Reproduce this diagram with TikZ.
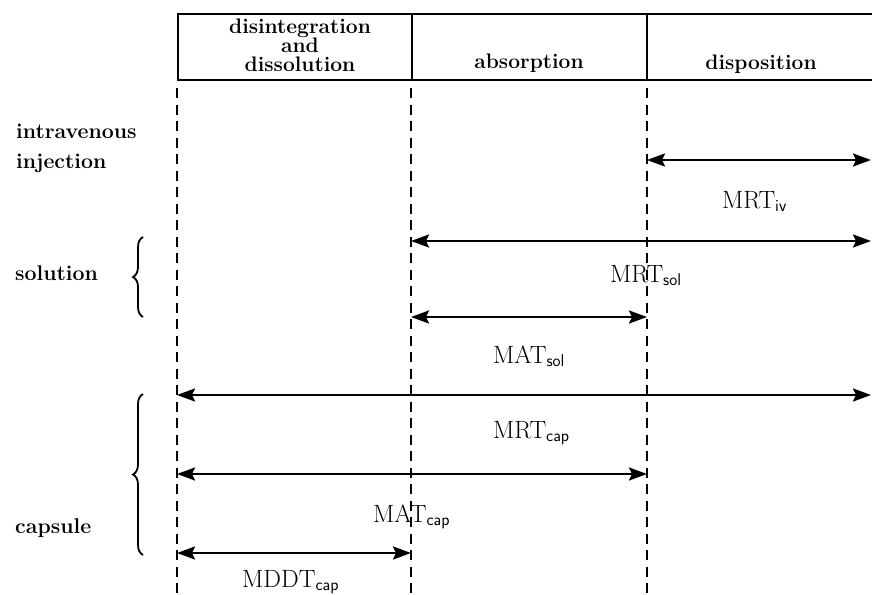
\documentclass[tikz,border=0pt]{standalone}
\usetikzlibrary{arrows.meta,decorations.pathreplacing}
\newcommand{\subtxt}[1]{\raisebox{-0.35ex}{\fontsize{17}{17}\selectfont\sffamily #1}}
\begin{document}
\begin{tikzpicture}[x=1pt,y=-1pt,
  vline/.style={line width=2.6pt,dash pattern=on 10pt off 6.5pt},
  span/.style={line width=2.3pt,{Stealth[length=18pt,width=13pt,inset=3pt]}-{Stealth[length=18pt,width=13pt,inset=3pt]}},
  hdr/.style={font=\fontsize{21}{19}\selectfont\bfseries,align=center,anchor=base,inner sep=0pt},
  lbl/.style={font=\fontsize{21.3}{23}\selectfont\bfseries,anchor=base west,inner sep=0pt},
  mlbl/.style={font=\fontsize{25}{25}\selectfont,anchor=base west,inner sep=0pt},
  brc/.style={line width=1.8pt,decorate,decoration={brace,amplitude=10pt,aspect=0.5}}]
\useasboundingbox (0,0) rectangle (872,594);
% header box
\coordinate (bl) at (178,80);
\coordinate (tl) at (178,14);
\coordinate (tr) at (872,14);
\coordinate (br) at (872,80);
\draw[line width=2.4pt] (tr) -- (tl) -- (bl) -- (br);
\coordinate (d1t) at (412,14); \coordinate (d1b) at (412,80);
\coordinate (d2t) at (647,14); \coordinate (d2b) at (647,80);
\draw[line width=1.8pt] (d1t) -- (d1b);
\draw[line width=1.8pt] (d2t) -- (d2b);
\node[hdr] (h1) at (300,71) {disintegration\\and\\dissolution};
\node[hdr] (h2) at (529,69) {absorption};
\node[hdr] (h3) at (761,70) {disposition};
% dashed verticals
\coordinate (v1t) at (177,88); \coordinate (v1b) at (177,594);
\coordinate (v2t) at (411,88); \coordinate (v2b) at (411,594);
\coordinate (v3t) at (647,88); \coordinate (v3b) at (647,594);
\draw[vline] (v1t) -- (v1b);
\draw[vline] (v2t) -- (v2b);
\draw[vline] (v3t) -- (v3b);
% left labels
\node[lbl] (iv1) at (16,138) {intravenous};
\node[lbl] (iv2) at (16,168) {injection};
\node[lbl] (sol) at (15,280) {solution};
\node[lbl] (cap) at (15,533) {capsule};
\draw[brc] (143,317) -- (143,237);
\draw[brc] (143,555) -- (143,394);
% arrows
\coordinate (a1l) at (647,160); \coordinate (a1r) at (871,160);
\coordinate (a2l) at (411,241); \coordinate (a2r) at (871,241);
\coordinate (a3l) at (411,317); \coordinate (a3r) at (647,317);
\coordinate (a4l) at (177,395); \coordinate (a4r) at (871,395);
\coordinate (a5l) at (177,474); \coordinate (a5r) at (647,474);
\coordinate (a6l) at (177,553); \coordinate (a6r) at (411,553);
\draw[span] (a1l) -- (a1r);
\draw[span] (a2l) -- (a2r);
\draw[span] (a3l) -- (a3r);
\draw[span] (a4l) -- (a4r);
\draw[span] (a5l) -- (a5r);
\draw[span] (a6l) -- (a6r);
% measure labels
\node[mlbl] (m1) at (722,208) {MRT\subtxt{iv}};
\node[mlbl] (m2) at (610,282) {MRT\subtxt{sol}};
\node[mlbl] (m3) at (493,363) {MAT\subtxt{sol}};
\node[mlbl] (m4) at (493,438) {MRT\subtxt{cap}};
\node[mlbl] (m5) at (373,522) {MAT\subtxt{cap}};
\node[mlbl] (m6) at (242,587) {MDDT\subtxt{cap}};
\end{tikzpicture}
\end{document}
